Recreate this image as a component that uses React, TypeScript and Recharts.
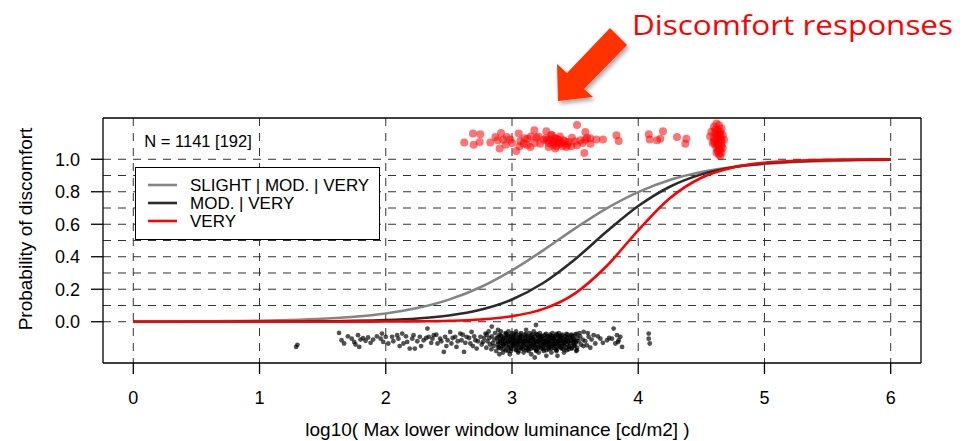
import React from "react";
import { ComposedChart, Line, Scatter, XAxis, YAxis, CartesianGrid, Legend } from "recharts";

const FONT = "'Liberation Sans', Arial, Helvetica, sans-serif";

// fitted probability curves, sampled along log10 luminance
const curveX = [0, 0.25, 0.5, 0.75, 1, 1.25, 1.5, 1.75, 2, 2.25, 2.5, 2.75, 3, 3.25, 3.5, 3.75, 4, 4.25, 4.5, 4.75, 5, 5.25, 5.5, 5.75, 6];
const pSlightModVery = [0.0007, 0.0012, 0.0021, 0.0037, 0.0062, 0.0106, 0.018, 0.0305, 0.051, 0.084, 0.136, 0.212, 0.316, 0.441, 0.575, 0.698, 0.798, 0.872, 0.921, 0.952, 0.971, 0.983, 0.99, 0.994, 0.997];
const pModVery = [0, 0.0001, 0.0002, 0.0003, 0.0007, 0.0013, 0.0026, 0.0051, 0.01, 0.0197, 0.0385, 0.0738, 0.137, 0.24, 0.385, 0.555, 0.712, 0.831, 0.907, 0.951, 0.975, 0.987, 0.994, 0.997, 0.998];
const pVery = [0, 0, 0, 0, 0, 0.0001, 0.0002, 0.0004, 0.001, 0.0024, 0.0058, 0.0141, 0.034, 0.079, 0.175, 0.343, 0.563, 0.76, 0.886, 0.95, 0.979, 0.991, 0.997, 0.999, 0.999];

const seriesNames = ["SLIGHT | MOD. | VERY", "MOD. | VERY", "VERY"];

const xTicks = [0, 1, 2, 3, 4, 5, 6];
const topTickLabels = ["1", "10", "100", "1000", "10000", "1e+05", "1e+06"];
const yTicks = [0, 0.2, 0.4, 0.6, 0.8, 1];
const yGrid = [0, 0.1, 0.2, 0.3, 0.4, 0.5, 0.6, 0.7, 0.8, 0.9, 1];

// responses without discomfort, jittered below zero
const noDiscomfort: [number, number][] = [
  [1.29, -0.155], [1.30, -0.142], [1.63, -0.069], [1.65, -0.114], [1.67, -0.134], [1.70, -0.09], [1.73, -0.104], [1.75, -0.124],
  [1.76, -0.14], [1.78, -0.083], [1.79, -0.155], [1.80, -0.11], [1.82, -0.101], [1.84, -0.117], [1.86, -0.097], [1.88, -0.13],
  [1.90, -0.11], [1.93, -0.09], [1.96, -0.104], [1.97, -0.073], [1.98, -0.124], [2.00, -0.093], [2.02, -0.134], [2.05, -0.093],
  [2.06, -0.12], [2.09, -0.083], [2.10, -0.104], [2.11, -0.15], [2.13, -0.073], [2.14, -0.134], [2.16, -0.09], [2.17, -0.124],
  [2.19, -0.165], [2.21, -0.104], [2.22, -0.083], [2.23, -0.165], [2.25, -0.12], [2.27, -0.093], [2.28, -0.15], [2.30, -0.114],
  [2.32, -0.10], [2.33, -0.042], [2.34, -0.093], [2.36, -0.13], [2.37, -0.104], [2.38, -0.083], [2.40, -0.08], [2.41, -0.134],
  [2.43, -0.104], [2.44, -0.12], [2.46, -0.186], [2.47, -0.093], [2.48, -0.15], [2.49, -0.114], [2.51, -0.063], [2.52, -0.134],
  [2.53, -0.10], [2.55, -0.093], [2.56, -0.155], [2.57, -0.12], [2.59, -0.073], [2.60, -0.114], [2.61, -0.08], [2.62, -0.186],
  [2.63, -0.13], [2.64, -0.093], [2.66, -0.10], [2.67, -0.134], [2.68, -0.063], [2.69, -0.15], [2.70, -0.09], [2.71, -0.114],
  [2.72, -0.165], [2.73, -0.12], [2.75, -0.093], [2.76, -0.14], [2.77, -0.124], [2.78, -0.10], [2.79, -0.073],
  [2.80, -0.08], [2.806, -0.12], [2.797, -0.16], [2.82, -0.10], [2.826, -0.14], [2.815, -0.06], [2.84, -0.09], [2.847, -0.13],
  [2.836, -0.17], [2.84, -0.03], [2.86, -0.11], [2.866, -0.07], [2.855, -0.15], [2.88, -0.10], [2.886, -0.14], [2.875, -0.18],
  [2.889, -0.05], [2.90, -0.08], [2.906, -0.12], [2.895, -0.16], [2.909, -0.13], [2.90, -0.20], [2.92, -0.09], [2.926, -0.11],
  [2.915, -0.15], [2.929, -0.19], [2.912, -0.06], [2.94, -0.10], [2.946, -0.13], [2.935, -0.17], [2.949, -0.07], [2.932, -0.14],
  [2.96, -0.08], [2.966, -0.12], [2.955, -0.15], [2.969, -0.18], [2.952, -0.10], [2.98, -0.09], [2.986, -0.11], [2.975, -0.14],
  [2.989, -0.16], [2.972, -0.06], [2.983, -0.20], [3.00, -0.07], [3.006, -0.10], [2.995, -0.13], [3.009, -0.15], [2.992, -0.18],
  [3.003, -0.12], [3.02, -0.08], [3.026, -0.11], [3.015, -0.14], [3.029, -0.17], [3.012, -0.09], [3.023, -0.13], [3.04, -0.10],
  [3.046, -0.12], [3.035, -0.15], [3.049, -0.19], [3.032, -0.06], [3.043, -0.14], [3.06, -0.08], [3.066, -0.11], [3.055, -0.13],
  [3.069, -0.16], [3.052, -0.18], [3.063, -0.10], [3.08, -0.09], [3.086, -0.12], [3.075, -0.14], [3.089, -0.17], [3.072, -0.07],
  [3.083, -0.15], [3.10, -0.08], [3.106, -0.10], [3.095, -0.13], [3.109, -0.16], [3.092, -0.19], [3.103, -0.12], [3.12, -0.09],
  [3.126, -0.11], [3.115, -0.14], [3.129, -0.17], [3.112, -0.05], [3.123, -0.15], [3.14, -0.07], [3.146, -0.10], [3.135, -0.12],
  [3.149, -0.15], [3.132, -0.18], [3.143, -0.13], [3.16, -0.08], [3.166, -0.11], [3.155, -0.14], [3.169, -0.16], [3.152, -0.20],
  [3.163, -0.10], [3.18, -0.09], [3.186, -0.12], [3.175, -0.13], [3.189, -0.17], [3.172, -0.06], [3.183, -0.15], [3.18, -0.22],
  [3.19, -0.02], [3.20, -0.08], [3.206, -0.10], [3.195, -0.14], [3.209, -0.16], [3.192, -0.18], [3.203, -0.12], [3.22, -0.07],
  [3.226, -0.11], [3.215, -0.13], [3.229, -0.15], [3.212, -0.19], [3.223, -0.09], [3.24, -0.09], [3.246, -0.12], [3.235, -0.14],
  [3.249, -0.17], [3.232, -0.10], [3.243, -0.16], [3.26, -0.08], [3.266, -0.10], [3.255, -0.13], [3.269, -0.15], [3.252, -0.18],
  [3.263, -0.12], [3.28, -0.09], [3.286, -0.11], [3.275, -0.14], [3.289, -0.16], [3.272, -0.21], [3.283, -0.13], [3.30, -0.08],
  [3.306, -0.10], [3.295, -0.12], [3.309, -0.15], [3.292, -0.17], [3.303, -0.14], [3.32, -0.07], [3.326, -0.11], [3.315, -0.13],
  [3.329, -0.16], [3.312, -0.19], [3.323, -0.09], [3.34, -0.09], [3.346, -0.12], [3.335, -0.14], [3.349, -0.17], [3.332, -0.10],
  [3.343, -0.15], [3.36, -0.08], [3.366, -0.10], [3.355, -0.13], [3.369, -0.15], [3.352, -0.18], [3.363, -0.12], [3.36, -0.21],
  [3.38, -0.09], [3.386, -0.11], [3.375, -0.14], [3.389, -0.16], [3.372, -0.07], [3.383, -0.13], [3.40, -0.08], [3.406, -0.12],
  [3.395, -0.15], [3.409, -0.17], [3.392, -0.10], [3.42, -0.09], [3.426, -0.11], [3.415, -0.13], [3.429, -0.16], [3.412, -0.19],
  [3.44, -0.08], [3.446, -0.12], [3.435, -0.14], [3.449, -0.17], [3.432, -0.10], [3.46, -0.10], [3.466, -0.13], [3.455, -0.15],
  [3.469, -0.08], [3.48, -0.09], [3.486, -0.12], [3.475, -0.16], [3.489, -0.11], [3.50, -0.08], [3.506, -0.13], [3.495, -0.15],
  [3.509, -0.18], [3.52, -0.10], [3.526, -0.12], [3.515, -0.16], [3.54, -0.09], [3.546, -0.14], [3.535, -0.07], [3.56, -0.11],
  [3.566, -0.15], [3.568, -0.062], [3.58, -0.12], [3.594, -0.145], [3.60, -0.07], [3.607, -0.093], [3.62, -0.16], [3.63, -0.11],
  [3.647, -0.083], [3.66, -0.134], [3.68, -0.09], [3.70, -0.104], [3.72, -0.13], [3.753, -0.114], [3.77, -0.10], [3.792, -0.104],
  [3.805, -0.042], [3.819, -0.134], [3.832, -0.083], [3.84, -0.125], [3.845, -0.114], [3.858, -0.093], [3.872, -0.155],
  [4.083, -0.073], [4.083, -0.104], [4.091, -0.134],
  // the dense core between 2.9 and 3.5
  [2.891, -0.095], [2.888, -0.125], [2.893, -0.155], [2.911, -0.085], [2.908, -0.115], [2.913, -0.165],
  [2.931, -0.105], [2.928, -0.135], [2.933, -0.145], [2.951, -0.075], [2.948, -0.12], [2.953, -0.175],
  [2.971, -0.095], [2.968, -0.125], [2.973, -0.155], [2.991, -0.085], [2.988, -0.115], [2.993, -0.165],
  [3.011, -0.105], [3.008, -0.135], [3.013, -0.145], [3.031, -0.075], [3.028, -0.12], [3.033, -0.175],
  [3.051, -0.095], [3.048, -0.125], [3.053, -0.155], [3.071, -0.085], [3.068, -0.115], [3.073, -0.165],
  [3.091, -0.105], [3.088, -0.135], [3.093, -0.145], [3.111, -0.075], [3.108, -0.12], [3.113, -0.175],
  [3.131, -0.095], [3.128, -0.125], [3.133, -0.155], [3.151, -0.085], [3.148, -0.115], [3.153, -0.165],
  [3.171, -0.105], [3.168, -0.135], [3.173, -0.145], [3.191, -0.075], [3.188, -0.12], [3.193, -0.175],
  [3.211, -0.095], [3.208, -0.125], [3.213, -0.155], [3.231, -0.085], [3.228, -0.115], [3.233, -0.165],
  [3.251, -0.105], [3.248, -0.135], [3.253, -0.145], [3.271, -0.075], [3.268, -0.12], [3.273, -0.175],
  [3.291, -0.095], [3.288, -0.125], [3.293, -0.155], [3.311, -0.085], [3.308, -0.115], [3.313, -0.165],
  [3.331, -0.105], [3.328, -0.135], [3.333, -0.145], [3.351, -0.075], [3.348, -0.12], [3.353, -0.175],
  [3.371, -0.095], [3.368, -0.125], [3.373, -0.155], [3.391, -0.085], [3.388, -0.115], [3.393, -0.165],
  [3.411, -0.105], [3.408, -0.135], [3.413, -0.145], [3.431, -0.075], [3.428, -0.12], [3.433, -0.175],
  [3.451, -0.095], [3.448, -0.125], [3.453, -0.155], [3.471, -0.085], [3.468, -0.115], [3.473, -0.165],
  [3.491, -0.105], [3.488, -0.135], [3.493, -0.145], [3.511, -0.075], [3.508, -0.12], [3.513, -0.175],
];

// discomfort responses, jittered above one
const discomfort: [number, number][] = [
  [2.622, 1.103], [2.691, 1.158], [2.696, 1.09], [2.749, 1.154], [2.744, 1.107], [2.828, 1.103], [2.886, 1.117], [2.902, 1.066],
  [2.913, 1.162], [2.868, 1.137], [2.93, 1.12], [2.95, 1.09], [2.96, 1.137], [2.987, 1.121], [3.00, 1.10], [3.034, 1.051],
  [3.053, 1.158], [3.06, 1.08], [3.066, 1.113], [3.092, 1.096], [3.10, 1.13], [3.12, 1.09], [3.124, 1.127], [3.145, 1.076],
  [3.15, 1.14], [3.177, 1.178], [3.18, 1.10], [3.193, 1.133], [3.21, 1.14], [3.224, 1.096], [3.25, 1.12], [3.27, 1.13],
  [3.272, 1.172], [3.277, 1.117], [3.29, 1.076], [3.29, 1.10], [3.30, 1.12], [3.31, 1.15], [3.317, 1.148], [3.32, 1.09],
  [3.33, 1.107], [3.33, 1.11], [3.34, 1.13], [3.343, 1.066], [3.35, 1.08], [3.356, 1.127], [3.36, 1.10], [3.37, 1.12],
  [3.38, 1.14], [3.383, 1.096], [3.39, 1.10], [3.40, 1.08], [3.409, 1.117], [3.42, 1.11], [3.43, 1.076], [3.44, 1.09],
  [3.449, 1.107], [3.47, 1.08], [3.475, 1.133], [3.50, 1.11], [3.515, 1.211], [3.515, 1.086], [3.541, 1.117], [3.56, 1.10],
  [3.573, 1.039], [3.58, 1.12], [3.581, 1.168], [3.594, 1.133], [3.621, 1.096], [3.62, 1.13], [3.668, 1.121], [3.721, 1.121],
  [3.827, 1.148], [3.845, 1.113], [4.083, 1.154], [4.091, 1.121], [4.149, 1.117], [4.175, 1.127], [4.196, 1.172], [4.307, 1.137],
  [4.373, 1.096], [4.381, 1.127],
  [4.62, 1.22], [4.64, 1.21], [4.60, 1.20], [4.66, 1.19], [4.63, 1.18], [4.58, 1.17], [4.65, 1.17], [4.61, 1.16],
  [4.67, 1.15], [4.63, 1.15], [4.57, 1.14], [4.60, 1.13], [4.65, 1.13], [4.68, 1.12], [4.62, 1.12], [4.64, 1.11],
  [4.59, 1.10], [4.66, 1.10], [4.61, 1.09], [4.64, 1.08], [4.67, 1.07], [4.62, 1.07], [4.65, 1.06], [4.63, 1.05],
  [4.66, 1.04], [4.64, 1.03], [4.65, 1.02], [4.63, 1.10], [4.65, 1.15], [4.62, 1.14], [4.64, 1.16], [4.61, 1.18],
  [4.66, 1.12], [4.63, 1.09], [4.64, 1.06], [4.62, 1.04], [4.66, 1.08], [4.60, 1.11],
];

const X_DOMAIN: [number, number] = [-0.24, 6.24];
const Y_DOMAIN: [number, number] = [-0.254, 1.254];

const lineColors = ["#858585", "#2b2b2b", "#ff0000"];

const curveRows = (ys: number[]) => curveX.map((x, i) => ({ x, y: ys[i] }));
const pointRows = (pts: [number, number][]) => pts.map(([x, y]) => ({ x, y }));

const BlackDot = (p: any) => <circle cx={p.cx} cy={p.cy} r={2.4} fill="#000" fillOpacity={0.68} />;
const RedDot = (p: any) => <circle cx={p.cx} cy={p.cy} r={4} fill="#ff0000" fillOpacity={0.55} />;

// legend box drawn in series order, independent of recharts' payload sorting
function LegendBox() {
  return (
    <div style={{ width: 245, height: 73, border: "1.3px solid #000", background: "#fff", boxSizing: "border-box" }}>
      <svg width={243} height={71} style={{ display: "block" }}>
        {seriesNames.map((name, i) => (
          <g key={name}>
            <line x1={12} x2={41} y1={17 + i * 18} y2={17 + i * 18} stroke={lineColors[i]} strokeWidth={2.6} />
            <text x={54} y={23 + i * 18} fontSize={17} fontFamily={FONT} fill="#000">
              {name}
            </text>
          </g>
        ))}
      </svg>
    </div>
  );
}

export default function App() {
  const tickStyle = { fontSize: 18, fill: "#000", fontFamily: FONT };
  const axisStroke = { stroke: "#000", strokeWidth: 1.3 };
  return (
    <div style={{ position: "absolute", left: 0, top: 0, width: 975, height: 441, background: "#fff" }}>
      <ComposedChart width={975} height={441} margin={{ top: 0, right: 53, bottom: 0, left: 0 }}>
        <CartesianGrid
          horizontalValues={yGrid}
          verticalValues={xTicks}
          stroke="#333"
          strokeDasharray="8 7"
          strokeWidth={1}
        />
        <XAxis
          dataKey="x"
          type="number"
          domain={X_DOMAIN}
          ticks={xTicks}
          interval={0}
          height={78}
          tickSize={11}
          tickMargin={17.5}
          tick={tickStyle}
          axisLine={axisStroke}
          tickLine={axisStroke}
        />
        <XAxis
          xAxisId="top"
          orientation="top"
          dataKey="x"
          type="number"
          domain={X_DOMAIN}
          ticks={xTicks}
          interval={0}
          height={118}
          tickSize={11}
          tickMargin={16.5}
          tick={tickStyle}
          tickFormatter={(v: number) => topTickLabels[Math.round(v)]}
          axisLine={axisStroke}
          tickLine={axisStroke}
        />
        <YAxis
          dataKey="y"
          type="number"
          domain={Y_DOMAIN}
          ticks={yTicks}
          interval={0}
          width={103}
          tickSize={12}
          tickMargin={11}
          tick={tickStyle}
          tickFormatter={(v: number) => v.toFixed(1)}
          axisLine={axisStroke}
          tickLine={axisStroke}
        />
        <YAxis
          yAxisId="r"
          orientation="right"
          type="number"
          domain={Y_DOMAIN}
          width={1}
          tick={false}
          tickLine={false}
          axisLine={axisStroke}
        />
        {[pSlightModVery, pModVery, pVery].map((ys, i) => (
          <Line
            key={seriesNames[i]}
            data={curveRows(ys)}
            dataKey="y"
            name={seriesNames[i]}
            type="monotone"
            stroke={lineColors[i]}
            strokeWidth={2.6}
            dot={false}
            activeDot={false}
            isAnimationActive={false}
          />
        ))}
        <Scatter data={pointRows(noDiscomfort)} dataKey="y" shape={BlackDot} legendType="none" isAnimationActive={false} />
        <Scatter data={pointRows(discomfort)} dataKey="y" shape={RedDot} legendType="none" isAnimationActive={false} />
        <Legend
          layout="vertical"
          align="center"
          verticalAlign="middle"
          content={<LegendBox />}
          wrapperStyle={{ left: 135, top: 167, width: 245, height: 73 }}
        />
      </ComposedChart>
      <svg
        width={975}
        height={441}
        style={{ position: "absolute", left: 0, top: 0, pointerEvents: "none" }}
      >
        <defs>
          <filter id="arrowShadow" x="-20%" y="-20%" width="150%" height="150%">
            <feDropShadow dx={2} dy={3} stdDeviation={2} floodColor="#000" floodOpacity={0.35} />
          </filter>
        </defs>
        <text x={144.3} y={147.3} fontSize={16.5} fontFamily={FONT} fill="#000">
          N = 1141 [192]
        </text>
        <text x={497.5} y={436} fontSize={19} fontFamily={FONT} fill="#000" textAnchor="middle">
          log10( Max lower window luminance [cd/m2] )
        </text>
        <text
          x={32.3}
          y={229}
          fontSize={19}
          fontFamily={FONT}
          fill="#000"
          textAnchor="middle"
          transform="rotate(-90 32.3 229)"
        >
          Probability of discomfort
        </text>
        <text
          x={632}
          y={35}
          fontSize={28}
          fontFamily="'Open Sans', 'Noto Sans', sans-serif"
          fill="#ff0000"
          textLength={321}
          lengthAdjust="spacingAndGlyphs"
        >
          Discomfort responses
        </text>
        <polygon
          points="610,28 627,45 584,89 593,97 558,101 557,64 567,73"
          fill="#ff3300"
          filter="url(#arrowShadow)"
        />
      </svg>
    </div>
  );
}
